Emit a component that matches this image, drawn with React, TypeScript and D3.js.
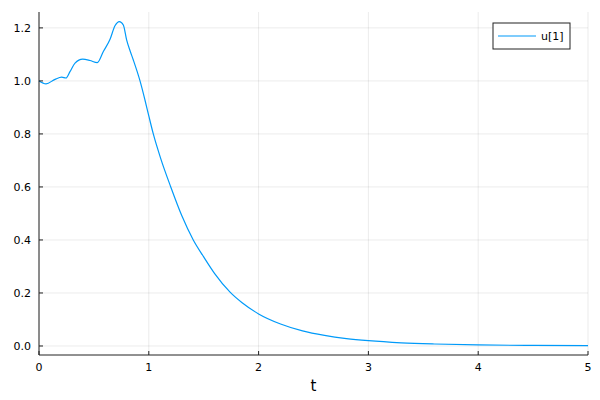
import * as d3 from "d3";
import { useEffect, useRef } from "react";

// values
const tValues = [
  0, 0.064, 0.146, 0.207, 0.246, 0.282, 0.328, 0.398, 0.464, 0.531, 0.586,
  0.647, 0.692, 0.732, 0.768, 0.798, 0.83, 0.859, 0.92, 0.965, 1.0, 1.041,
  1.108, 1.2, 1.3, 1.405, 1.5, 1.6, 1.74, 1.85, 2.0, 2.2, 2.4, 2.6, 2.8, 3.0,
  3.3, 3.6, 4.0, 4.5, 5.0,
];
const uValues = [
  1.0, 0.989, 1.006, 1.014, 1.011, 1.035, 1.067, 1.082, 1.077, 1.069, 1.111,
  1.157, 1.208, 1.224, 1.211, 1.155, 1.113, 1.079, 1.0, 0.928, 0.868, 0.8,
  0.708, 0.6, 0.492, 0.4, 0.336, 0.273, 0.203, 0.163, 0.121, 0.083, 0.057,
  0.04, 0.028, 0.02, 0.012, 0.0075, 0.004, 0.002, 0.001,
];
const xTicks = [0, 1, 2, 3, 4, 5];
const yTicks = [0, 0.2, 0.4, 0.6, 0.8, 1.0, 1.2];
const seriesName = "u[1]";
const xLabel = "t";

const W = 600;
const H = 400;
const PLOT = { left: 39, right: 588, top: 12, bottom: 355 };
const BLUE = "#009af9";
const FONT = "DejaVu Sans, sans-serif";

export default function App() {
  const svgRef = useRef<SVGSVGElement>(null);

  useEffect(() => {
    if (!svgRef.current) return;
    const svg = d3.select(svgRef.current);
    svg.selectAll("*").remove();

    const x = d3.scaleLinear().domain([0, 5]).range([PLOT.left, PLOT.right]);
    const y = d3
      .scaleLinear()
      .domain([-0.034, 1.26])
      .range([PLOT.bottom, PLOT.top]);

    svg.append("rect").attr("width", W).attr("height", H).attr("fill", "#fff");

    // grid
    svg
      .append("g")
      .selectAll("line")
      .data(xTicks)
      .enter()
      .append("line")
      .attr("x1", (d) => x(d))
      .attr("x2", (d) => x(d))
      .attr("y1", PLOT.top)
      .attr("y2", PLOT.bottom)
      .attr("stroke", "#000")
      .attr("stroke-opacity", 0.08);
    svg
      .append("g")
      .selectAll("line")
      .data(yTicks)
      .enter()
      .append("line")
      .attr("x1", PLOT.left)
      .attr("x2", PLOT.right)
      .attr("y1", (d) => y(d))
      .attr("y2", (d) => y(d))
      .attr("stroke", "#000")
      .attr("stroke-opacity", 0.08);

    // series
    const pts = tValues.map((t, i) => [t, uValues[i]] as [number, number]);
    const line = d3
      .line<[number, number]>()
      .x((d) => x(d[0]))
      .y((d) => y(d[1]))
      .curve(d3.curveMonotoneX);
    svg
      .append("path")
      .datum(pts)
      .attr("fill", "none")
      .attr("stroke", BLUE)
      .attr("stroke-width", 1.2)
      .attr("d", line);

    // axes
    const axisColor = "#222";
    svg
      .append("line")
      .attr("x1", PLOT.left)
      .attr("x2", PLOT.left)
      .attr("y1", PLOT.top)
      .attr("y2", PLOT.bottom)
      .attr("stroke", axisColor);
    svg
      .append("line")
      .attr("x1", PLOT.left)
      .attr("x2", PLOT.right)
      .attr("y1", PLOT.bottom)
      .attr("y2", PLOT.bottom)
      .attr("stroke", axisColor);

    // ticks (inward)
    svg
      .append("g")
      .selectAll("line")
      .data(xTicks)
      .enter()
      .append("line")
      .attr("x1", (d) => x(d))
      .attr("x2", (d) => x(d))
      .attr("y1", PLOT.bottom)
      .attr("y2", PLOT.bottom - 4)
      .attr("stroke", axisColor);
    svg
      .append("g")
      .selectAll("line")
      .data(yTicks)
      .enter()
      .append("line")
      .attr("x1", PLOT.left)
      .attr("x2", PLOT.left + 4)
      .attr("y1", (d) => y(d))
      .attr("y2", (d) => y(d))
      .attr("stroke", axisColor);

    // tick labels
    svg
      .append("g")
      .selectAll("text")
      .data(xTicks)
      .enter()
      .append("text")
      .attr("x", (d) => x(d))
      .attr("y", 371)
      .attr("text-anchor", "middle")
      .attr("font-family", FONT)
      .attr("font-size", 11)
      .attr("fill", "#000")
      .text((d) => String(d));
    svg
      .append("g")
      .selectAll("text")
      .data(yTicks)
      .enter()
      .append("text")
      .attr("x", 31)
      .attr("y", (d) => y(d))
      .attr("dy", "0.36em")
      .attr("text-anchor", "end")
      .attr("font-family", FONT)
      .attr("font-size", 11)
      .attr("fill", "#000")
      .text((d) => d3.format(".1f")(d));

    // x label
    svg
      .append("text")
      .attr("x", (PLOT.left + PLOT.right) / 2)
      .attr("y", 391)
      .attr("text-anchor", "middle")
      .attr("font-family", FONT)
      .attr("font-size", 15)
      .attr("fill", "#000")
      .text(xLabel);

    // legend
    const lg = svg.append("g");
    lg.append("rect")
      .attr("x", 493)
      .attr("y", 23)
      .attr("width", 77)
      .attr("height", 26)
      .attr("fill", "#fff")
      .attr("stroke", axisColor);
    lg.append("line")
      .attr("x1", 498)
      .attr("x2", 536)
      .attr("y1", 36)
      .attr("y2", 36)
      .attr("stroke", BLUE)
      .attr("stroke-width", 1.2);
    lg.append("text")
      .attr("x", 541)
      .attr("y", 40)
      .attr("font-family", FONT)
      .attr("font-size", 11)
      .attr("fill", "#000")
      .text(seriesName);
  }, []);

  return (
    <svg
      ref={svgRef}
      width={W}
      height={H}
      style={{ position: "absolute", left: 0, top: 0, display: "block" }}
    />
  );
}
